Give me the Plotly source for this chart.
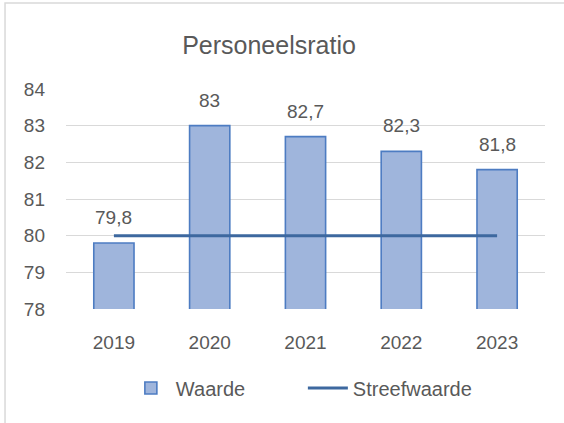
import plotly.graph_objects as go

years = ["2019", "2020", "2021", "2022", "2023"]
waarde = [79.8, 83.0, 82.7, 82.3, 81.8]
streefwaarde = [80, 80, 80, 80, 80]
y_ticks = [78, 79, 80, 81, 82, 83, 84]

FONT = "Liberation Sans"
GRAY = "#595959"

def fmt(v):
    return f"{v:g}".replace(".", ",")

fig = go.Figure()
fig.add_trace(go.Bar(
    x=years, y=waarde, name="Waarde",
    marker=dict(color="#9fb5dc", line=dict(color="#4d7cc2", width=1.6)),
))
fig.add_trace(go.Scatter(
    x=years, y=streefwaarde, name="Streefwaarde", mode="lines",
    line=dict(color="#3d689f", width=3),
))

# category axis: annotation x given as category index
for i, v in enumerate(waarde):
    fig.add_annotation(x=i, y=v, text=fmt(v), showarrow=False,
                       yanchor="bottom", yshift=13,
                       font=dict(family=FONT, size=19, color=GRAY))

fig.add_shape(type="rect", xref="paper", yref="paper",
              x0=-0.1273, x1=1.5, y0=-1.0, y1=1.391,
              line=dict(color="#d9d9d9", width=1.5), layer="below")

fig.update_layout(
    width=564, height=423,
    margin=dict(l=66, r=19, t=89, b=114),
    paper_bgcolor="white", plot_bgcolor="white",
    separators=",.",
    bargap=0.58,
    font=dict(family=FONT, size=19, color=GRAY),
    title=dict(text="Personeelsratio", x=0.477, xref="container", xanchor="center",
               y=1 - 45 / 423, yref="container", yanchor="middle",
               font=dict(family=FONT, size=25, color=GRAY)),
    legend=dict(orientation="h", x=0.537, xref="container", xanchor="center",
                y=(423 - 388) / 423, yref="container", yanchor="middle",
                font=dict(family=FONT, size=20, color=GRAY),
                itemwidth=40, entrywidth=122, entrywidthmode="pixels",
                traceorder="normal"),
    xaxis=dict(type="category", showgrid=False, showline=False, ticks="",
               ticklabelstandoff=20, tickfont=dict(size=19, color=GRAY)),
    yaxis=dict(range=[78, 84], tickvals=y_ticks, showgrid=True, gridcolor="#d9d9d9",
               gridwidth=1.3, zeroline=False, showline=False, ticks="",
               ticklabelstandoff=20, tickfont=dict(size=19, color=GRAY)),
)

fig.write_html("out.html", config={"displayModeBar": False},
               post_script="document.body.style.margin='0';")
